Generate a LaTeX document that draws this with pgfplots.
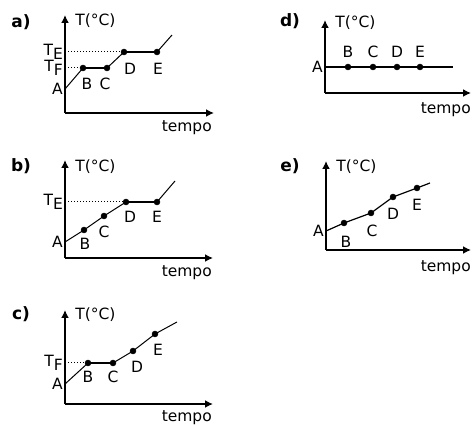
\documentclass[border=0pt]{standalone}
\usepackage{fontspec}
\setmainfont{DejaVu Sans}
\usepackage{pgfplots}
\pgfplotsset{compat=1.18}
\usetikzlibrary{arrows.meta}

\newcommand\sub[1]{\raisebox{-4.5pt}{#1}}

\pgfplotsset{
  panel/.style={
    scale only axis, clip=false,
    axis lines=left,
    x axis line style={black, line width=2pt, -{Latex[length=8pt,width=8pt]}},
    y axis line style={black, line width=2pt, -{Latex[length=8pt,width=8pt]}},
    xmin=0, ymin=0,
    xtick=\empty,
    tick style={draw=none},
    major tick length=0pt,
    yticklabel style={inner sep=2pt},
  },
  flat/.style={black, line width=2pt},
  ramp/.style={black, line width=1pt},
  guide/.style={black, line width=1pt, dotted},
  dot/.style={black, only marks, mark=*, mark size=3pt},
}

\begin{document}
\fontsize{15.5}{18}\selectfont
\begin{tikzpicture}[x=1pt,y=1pt]
\useasboundingbox (0,0) rectangle (476,-427);

\node[font=\fontsize{17}{19}\bfseries\selectfont] at (21,-22) {a)};
\node[font=\fontsize{17}{19}\bfseries\selectfont] at (21,-166) {b)};
\node[font=\fontsize{17}{19}\bfseries\selectfont] at (21,-314) {c)};
\node[font=\fontsize{17}{19}\bfseries\selectfont] at (290,-21) {d)};
\node[font=\fontsize{17}{19}\bfseries\selectfont] at (290,-166) {e)};

% a)
\begin{axis}[panel, at={(65pt,-113pt)}, anchor=south west,
  width=149pt, height=98pt, xmax=149, ymax=98,
  ytick={24,45,61}, yticklabels={A,{T\sub{F}},{T\sub{E}}}]
\addplot[guide] coordinates {(0,45)(18,45)};
\addplot[guide] coordinates {(0,61)(59,61)};
\addplot[ramp] coordinates {(0,24)(18,45)};
\addplot[flat] coordinates {(18,45)(42,45)};
\addplot[ramp] coordinates {(42,45)(59,61)};
\addplot[flat] coordinates {(59,61)(92,61)};
\addplot[ramp] coordinates {(92,61)(107,78)};
\addplot[dot] coordinates {(18,45)(42,45)(59,61)(92,61)};
\node at (axis cs:22,29) {B};
\node at (axis cs:40,29) {C};
\node at (axis cs:65,44) {D};
\node at (axis cs:93,44) {E};
\node[anchor=west] at (axis cs:5,92) {T(°C)};
\node[anchor=north east, inner sep=0pt] at (axis cs:147,-7) {tempo};
\end{axis}

% b)
\begin{axis}[panel, at={(65pt,-258pt)}, anchor=south west,
  width=148pt, height=98pt, xmax=148, ymax=98,
  ytick={16,56}, yticklabels={A,{T\sub{E}}}]
\addplot[guide] coordinates {(0,56)(61,56)};
\addplot[ramp] coordinates {(0,16)(19,28)(39,42)(61,56)};
\addplot[flat] coordinates {(61,56)(92,56)};
\addplot[ramp] coordinates {(92,56)(110,77)};
\addplot[dot] coordinates {(19,28)(39,42)(61,56)(92,56)};
\node at (axis cs:20,14) {B};
\node at (axis cs:39,26) {C};
\node at (axis cs:65,41) {D};
\node at (axis cs:92,41) {E};
\node[anchor=west] at (axis cs:5,91) {T(°C)};
\node[anchor=north east, inner sep=0pt] at (axis cs:147,-7) {tempo};
\end{axis}

% c)
\begin{axis}[panel, at={(65pt,-404pt)}, anchor=south west,
  width=148pt, height=94pt, xmax=148, ymax=94,
  ytick={20,41}, yticklabels={A,{T\sub{F}}}]
\addplot[guide] coordinates {(0,41)(23,41)};
\addplot[ramp] coordinates {(0,20)(23,41)};
\addplot[flat] coordinates {(23,41)(48,41)};
\addplot[ramp] coordinates {(48,41)(68,53)(90,70)(112,82)};
\addplot[dot] coordinates {(23,41)(48,41)(68,53)(90,70)};
\node at (axis cs:23,27) {B};
\node at (axis cs:48,27) {C};
\node at (axis cs:72,37) {D};
\node at (axis cs:93,54) {E};
\node[anchor=west] at (axis cs:5,89) {T(°C)};
\node[anchor=north east, inner sep=0pt] at (axis cs:147,-6) {tempo};
\end{axis}

% d)
\begin{axis}[panel, at={(325pt,-93pt)}, anchor=south west,
  width=146pt, height=73pt, xmax=146, ymax=73,
  ytick={26}, yticklabels={A}]
\addplot[flat] coordinates {(0,26)(128,26)};
\addplot[dot] coordinates {(23,26)(48,26)(72,26)(95,26)};
\node at (axis cs:23,41) {B};
\node at (axis cs:48,41) {C};
\node at (axis cs:72,41) {D};
\node at (axis cs:95,41) {E};
\node[anchor=west] at (axis cs:5,70) {T(°C)};
\node[anchor=north east, inner sep=0pt] at (axis cs:146,-9) {tempo};
\end{axis}

% e)
\begin{axis}[panel, at={(326pt,-250pt)}, anchor=south west,
  width=145pt, height=89pt, xmax=145, ymax=89,
  ytick={19}, yticklabels={A}]
\addplot[ramp, line width=1.2pt] coordinates {(0,19)(18,27)(45,37)(67,53)(91,62)(104,67)};
\addplot[dot] coordinates {(18,27)(45,37)(67,53)(91,62)};
\node at (axis cs:20,8) {B};
\node at (axis cs:46,19) {C};
\node at (axis cs:67,36) {D};
\node at (axis cs:91,45) {E};
\node[anchor=west] at (axis cs:5,83) {T(°C)};
\node[anchor=north east, inner sep=0pt] at (axis cs:145,-10) {tempo};
\end{axis}
\end{tikzpicture}
\end{document}
